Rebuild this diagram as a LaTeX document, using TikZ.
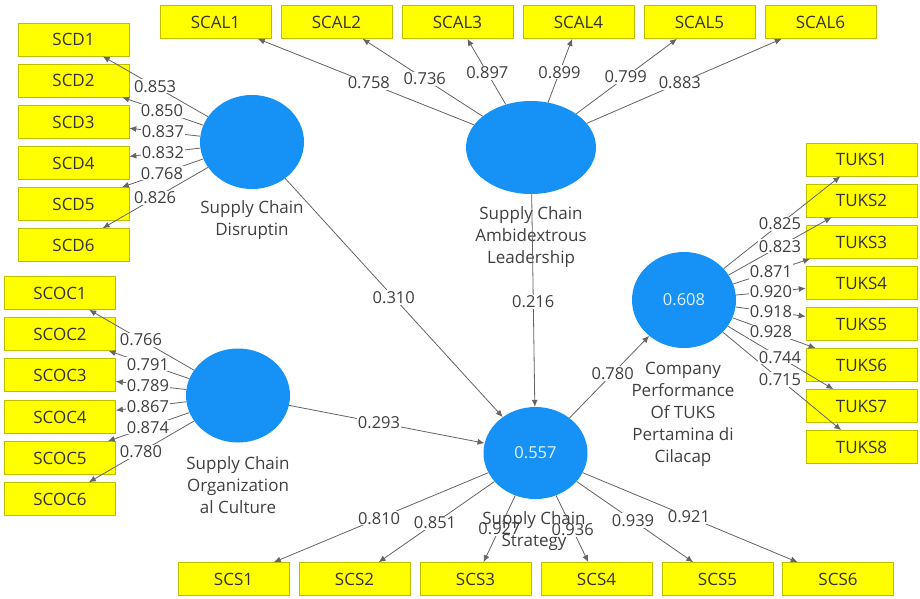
\documentclass[tikz,border=0pt]{standalone}
\usepackage{fontspec}
\setmainfont{Open Sans}
\usetikzlibrary{shapes.geometric,arrows.meta}
\definecolor{lv}{RGB}{22,145,245}
\definecolor{ind}{RGB}{255,255,0}
\definecolor{indborder}{RGB}{190,190,0}
\definecolor{txt}{RGB}{64,64,64}
\definecolor{edge}{RGB}{100,100,100}
\begin{document}
\begin{tikzpicture}[x=1pt,y=-1pt,
 lvnode/.style={ellipse,fill=lv,draw=none,inner sep=0pt,minimum width=104pt,minimum height=94pt,text=white!88!lv,font=\fontsize{16.5}{18}\selectfont},
 indbox/.style={rectangle,fill=ind,draw=indborder,line width=0.6pt,minimum width=111pt,minimum height=33pt,inner sep=0pt,text=black!80,font=\fontsize{17}{18}\selectfont},
 caption/.style={align=center,text=txt,font=\fontsize{17}{22}\selectfont},
 wt/.style={fill=white,inner sep=1pt,text=txt,font=\fontsize{16.5}{18}\selectfont},
 link/.style={draw=edge,line width=0.8pt,-{Latex[length=7pt,width=6pt]}}
]
\useasboundingbox[fill=white] (0,0) rectangle (920,598);

% latent variables
\node[lvnode] (D) at (252,142) {};
\node[lvnode,minimum width=130pt,minimum height=93pt] (L) at (531,147.5) {};
\node[lvnode] (C) at (238,395.5) {};
\node[lvnode,minimum height=92pt] (S) at (535.5,453) {0.557};
\node[lvnode,minimum height=96pt] (P) at (684,300) {0.608};

% indicators
\foreach \i/\y in {1/39.5,2/80.5,3/122,4/163,5/204,6/245}
  \node[indbox] (SCD\i) at (73.5,\y) {SCD\i};
\foreach \i/\y in {1/293,2/334,3/375,4/417,5/458,6/499}
  \node[indbox] (SCOC\i) at (60,\y) {SCOC\i};
\foreach \i/\x in {1/215.5,2/336.5,3/457.5,4/578.5,5/699.5,6/820.5}
  \node[indbox] (SCAL\i) at (\x,22) {SCAL\i};
\foreach \i/\y in {1/159.5,2/200.5,3/242,4/283,5/324,6/365,7/406,8/447}
  \node[indbox] (TUKS\i) at (861.5,\y) {TUKS\i};
\foreach \i/\x in {1/233.5,2/354.5,3/475.5,4/596.5,5/717.5,6/838}
  \node[indbox] (SCS\i) at (\x,579) {SCS\i};

% captions
\node[caption] (Dcap) at (252,220.5) {Supply Chain\\Disruptin};
\node[caption] (Lcap) at (531,237.5) {Supply Chain\\Ambidextrous\\Leadership};
\node[caption] (Ccap) at (238,485) {Supply Chain\\Organization\\al Culture};
\node[caption] (Pcap) at (683,414) {Company\\Performance\\Of TUKS\\Pertamina di\\Cilacap};

% connectors
\foreach \i in {1,...,6} \draw[link] (D) -- (SCD\i);
\foreach \i in {1,...,6} \draw[link] (C) -- (SCOC\i);
\foreach \i in {1,...,6} \draw[link] (L) -- (SCAL\i);
\foreach \i in {1,...,8} \draw[link] (P) -- (TUKS\i);
\foreach \i in {1,...,6} \draw[link] (S) -- (SCS\i);
\draw[link] (D) -- (S);
\draw[link] (L) -- (S);
\draw[link] (C) -- (S);
\draw[link] (S) -- (P);

% weights
\foreach \i/\v/\p in {1/0.853/0.543,2/0.850/0.504,3/0.837/0.499,4/0.832/0.499,5/0.768/0.504,6/0.826/0.543}
  \path (D.center) -- (SCD\i.center) node[wt,pos=\p] (wD\i) {\v};
\foreach \i/\v/\p in {1/0.766/0.545,2/0.791/0.506,3/0.789/0.506,4/0.867/0.506,5/0.874/0.506,6/0.780/0.545}
  \path (C.center) -- (SCOC\i.center) node[wt,pos=\p] (wC\i) {\v};
\foreach \i/\v/\p in {1/0.758/0.514,2/0.736/0.546,3/0.897/0.594,4/0.899/0.6,5/0.799/0.562,6/0.883/0.514}
  \path (L.center) -- (SCAL\i.center) node[wt,pos=\p] (wL\i) {\v};
\foreach \i/\v/\p in {1/0.825/0.541,2/0.823/0.541,3/0.871/0.49,4/0.920/0.49,5/0.918/0.49,6/0.928/0.49,7/0.744/0.541,8/0.715/0.541}
  \path (P.center) -- (TUKS\i.center) node[wt,pos=\p] (wP\i) {\v};
\foreach \i/\v/\p in {1/0.810/0.518,2/0.851/0.555,3/0.927/0.6,4/0.936/0.61,5/0.939/0.536,6/0.921/0.507}
  \path (S.center) -- (SCS\i.center) node[wt,pos=\p] (wS\i) {\v};
\path (D.center) -- (S.center) node[wt,pos=0.5] (wDS) {0.310};
\path (L.center) -- (S.center) node[wt,pos=0.506] (wLS) {0.216};
\path (C.center) -- (S.center) node[wt,pos=0.474] (wCS) {0.293};
\path (S.center) -- (P.center) node[wt,pos=0.52] (wSP) {0.780};

\node[caption] (Scap) at (534,531.5) {Supply Chain\\Strategy};
\end{tikzpicture}
\end{document}
